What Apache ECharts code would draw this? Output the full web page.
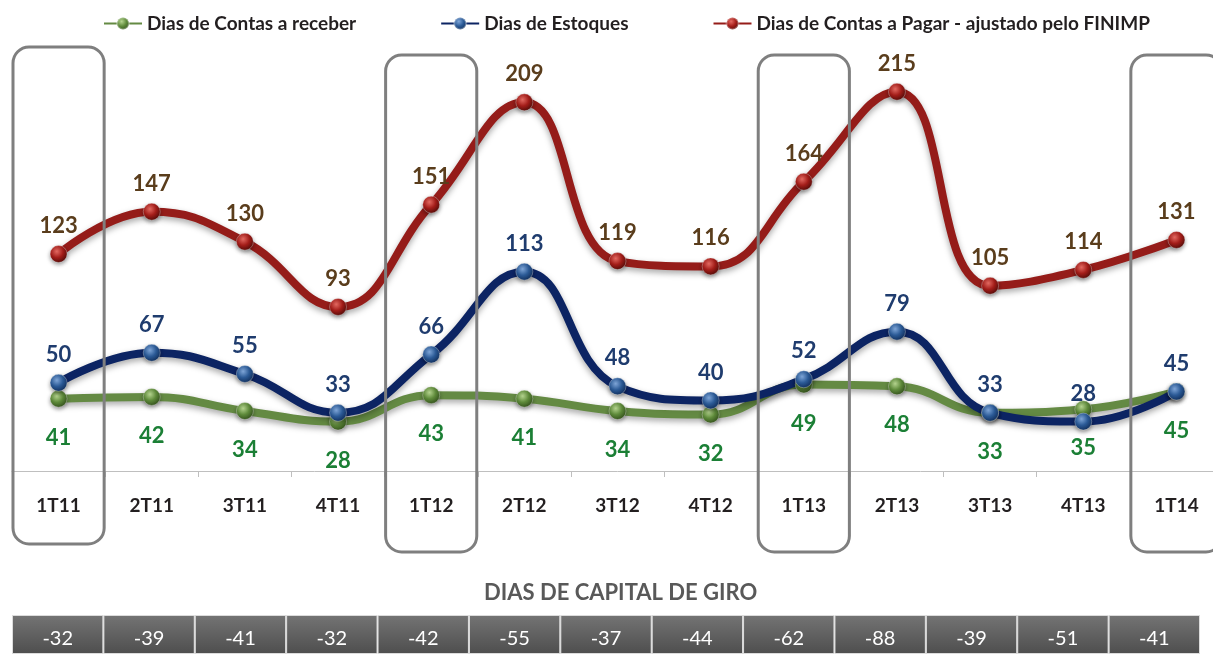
<!DOCTYPE html>
<html>
<head>
<meta charset="utf-8">
<script src="https://cdn.jsdelivr.net/npm/echarts@6/dist/echarts.min.js"></script>
<style>
  html, body { margin: 0; padding: 0; background: #fff; overflow: hidden; }
  #chart { width: 1223px; height: 654px; }
</style>
</head>
<body>
<div id="chart"></div>
<script>
var categories = ['1T11', '2T11', '3T11', '4T11', '1T12', '2T12', '3T12', '4T12', '1T13', '2T13', '3T13', '4T13', '1T14']
var receber = [41, 42, 34, 28, 43, 41, 34, 32, 49, 48, 33, 35, 45]
var estoques = [50, 67, 55, 33, 66, 113, 48, 40, 52, 79, 33, 28, 45]
var pagar = [123, 147, 130, 93, 151, 209, 119, 116, 164, 215, 105, 114, 131]
var capitalGiro = [-32, -39, -41, -32, -42, -55, -37, -44, -62, -88, -39, -51, -41]

var FONT = 'Lato, "Open Sans", sans-serif'

function ball(light, mid, dark) {
  return {
    type: 'radial', x: 0.4, y: 0.35, r: 0.7,
    colorStops: [
      { offset: 0, color: light },
      { offset: 0.5, color: mid },
      { offset: 1, color: dark }
    ]
  }
}

function lineSeries(name, data, color, symColors, labelColor, labelPos, dist) {
  return {
    name: name,
    type: 'line',
    data: data,
    smooth: 0.45,
    symbol: 'circle',
    symbolSize: 17,
    lineStyle: {
      color: color,
      width: 8,
      shadowColor: 'rgba(0,0,0,0.35)',
      shadowBlur: 6,
      shadowOffsetY: 3
    },
    itemStyle: {
      color: ball(symColors[0], symColors[1], symColors[2]),
      borderColor: 'rgba(255,255,255,0.3)',
      borderWidth: 1,
      shadowColor: 'rgba(0,0,0,0.4)',
      shadowBlur: 4,
      shadowOffsetY: 2
    },
    label: {
      show: true,
      position: labelPos,
      distance: dist,
      color: labelColor,
      fontFamily: FONT,
      fontWeight: 'bold',
      fontSize: 22
    },
    emphasis: { disabled: true }
  }
}

var myChart = echarts.init(document.getElementById('chart'))
var option = {
  animation: false,
  textStyle: { fontFamily: FONT },
  legend: {
    top: 9,
    left: 98,
    itemGap: 84,
    itemWidth: 38,
    itemHeight: 15,
    textStyle: { fontFamily: FONT, fontWeight: 'bold', fontSize: 19, color: '#231f20' },
    data: ['Dias de Contas a receber', 'Dias de Estoques', 'Dias de Contas a Pagar - ajustado pelo FINIMP']
  },
  title: {
    text: 'DIAS DE CAPITAL DE GIRO',
    left: 479,
    top: 577,
    textStyle: { fontFamily: FONT, fontWeight: 'bold', fontSize: 22, color: '#595959' }
  },
  grid: [
    { left: 12, right: 0, top: 30, height: 441 },
    { left: 12, right: 23, top: 615, bottom: 0 }
  ],
  xAxis: [
    {
      type: 'category',
      gridIndex: 0,
      data: categories,
      axisLine: { lineStyle: { color: '#bfbfbf', width: 1 } },
      axisTick: { show: true, length: 6, lineStyle: { color: '#bfbfbf' } },
      axisLabel: { margin: 25, color: '#231f20', fontFamily: FONT, fontWeight: 'bold', fontSize: 19 }
    },
    {
      type: 'category',
      gridIndex: 1,
      data: categories,
      show: false
    }
  ],
  yAxis: [
    { type: 'value', gridIndex: 0, min: 0, max: 250, show: false, splitLine: { show: false } },
    { type: 'value', gridIndex: 1, min: 0, max: 1, show: false, splitLine: { show: false } }
  ],
  series: [
    lineSeries('Dias de Contas a receber', receber, '#648a43', ['#b5d48f', '#5e8a3a', '#2f4a1a'], '#1b7f35', 'bottom', 19),
    lineSeries('Dias de Estoques', estoques, '#0c2463', ['#7fa6d8', '#2b5a96', '#0f2a55'], '#1f3c6e', 'top', 8),
    lineSeries('Dias de Contas a Pagar - ajustado pelo FINIMP', pagar, '#951c19', ['#e46a62', '#a31d19', '#4a0b08'], '#5a3d1c', 'top', 8),
    {
      name: 'capital',
      type: 'bar',
      xAxisIndex: 1,
      yAxisIndex: 1,
      barWidth: '100%',
      data: capitalGiro.map(function (v) { return { value: 1, capital: v } }),
      itemStyle: {
        color: {
          type: 'linear', x: 0, y: 0, x2: 0, y2: 1,
          colorStops: [{ offset: 0, color: '#747474' }, { offset: 1, color: '#4e4e4e' }]
        },
        borderColor: '#dcdcdc',
        borderWidth: 1
      },
      label: {
        show: true,
        position: 'inside',
        offset: [0, 4],
        color: '#ffffff',
        fontFamily: FONT,
        fontSize: 20,
        formatter: function (p) { return String(capitalGiro[p.dataIndex]) }
      },
      emphasis: { disabled: true }
    }
  ]
}
myChart.setOption(option)

// rounded frames around the first quarter of each year
var x0 = myChart.convertToPixel({ xAxisIndex: 0 }, categories[0])
var x1 = myChart.convertToPixel({ xAxisIndex: 0 }, categories[1])
var band = x1 - x0
var frames = []
categories.forEach(function (c, i) {
  if (c.indexOf('1T') === 0) {
    var cx = myChart.convertToPixel({ xAxisIndex: 0 }, c)
    var top = i === 0 ? 47 : 55
    frames.push({
      type: 'rect',
      z: 100,
      shape: { x: cx - band / 2 + 1, y: top, width: band - 2, height: 497, r: 16 },
      style: { fill: 'none', stroke: '#7f7f7f', lineWidth: 3 }
    })
  }
})
myChart.setOption({ graphic: frames })
</script>
</body>
</html>
